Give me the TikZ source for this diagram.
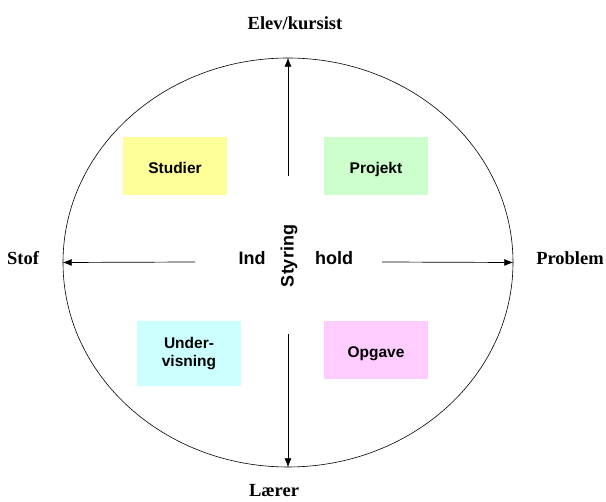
\documentclass[tikz,border=0pt]{standalone}
\usepackage{fontspec}
\setmainfont{Liberation Serif}
\setsansfont{Liberation Sans}
\usetikzlibrary{shapes.geometric,arrows.meta}
\definecolor{studcol}{HTML}{FFFF99}
\definecolor{projcol}{HTML}{CCFFCC}
\definecolor{undcol}{HTML}{CCFFFF}
\definecolor{opgcol}{HTML}{FFCCFF}
\begin{document}
\begin{tikzpicture}[x=1pt,y=-1pt,
  felt/.style={inner sep=0pt, minimum width=104pt, font=\sffamily\bfseries\fontsize{15.5}{18.5}\selectfont, align=center},
  enlinje/.style={text height=16pt, text depth=0pt},
  midt/.style={font=\sffamily\bfseries\fontsize{18}{20}\selectfont},
  pol/.style={font=\bfseries\fontsize{18.5}{20}\selectfont},
  pil/.style={line width=0.7pt, -{Latex[length=9pt,width=7pt]}}]
 \useasboundingbox (0,0) rectangle (606,502);

 \node[draw, ellipse, line width=0.6pt, inner sep=0pt, minimum width=450pt, minimum height=409pt] (ring) at (288,262.5) {};

 \node[felt, enlinje, fill=studcol, minimum height=58pt] (studier) at (175,166) {Studier};
 \node[felt, enlinje, fill=projcol, minimum height=58pt] (projekt) at (376,166) {Projekt};
 \node[felt, fill=undcol, minimum height=65pt] (under) at (189,353.5) {Under-\\visning};
 \node[felt, enlinje, fill=opgcol, minimum height=58pt] (opgave) at (376,350) {Opgave};

 \node[midt] (ind) at (252,258) {Ind};
 \node[midt] (hold) at (334,258) {hold};
 \node[midt, rotate=90] (styring) at (289,256) {Styring};

 \coordinate (top) at (288,176);
 \coordinate (bund) at (288,334);
 \coordinate (venstre) at (195,262);
 \coordinate (hoejre) at (382,262);

 \draw[pil] (top) -- (ring.north);
 \draw[pil] (bund) -- (ring.south);
 \draw[pil] (venstre) -- (ring.west);
 \draw[pil] (hoejre) -- (ring.east);

 \node[pol] (elev) at (295,23) {Elev/kursist};
 \node[pol] (laerer) at (274,491) {Lærer};
 \node[pol] (stof) at (23,258) {Stof};
 \node[pol] (problem) at (570,258) {Problem};
\end{tikzpicture}
\end{document}
